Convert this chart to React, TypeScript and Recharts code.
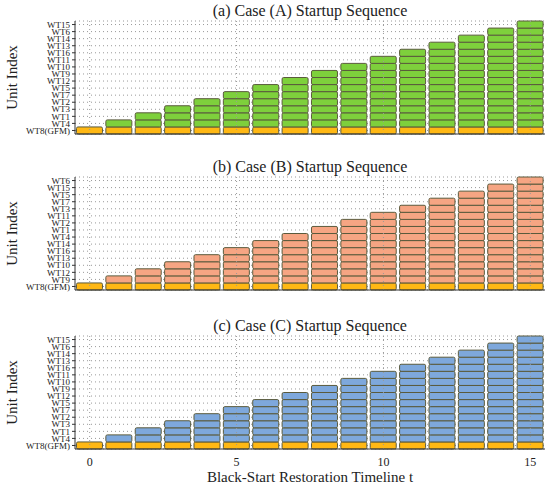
import React from "react"
import {
  BarChart,
  Bar,
  XAxis,
  YAxis,
  CartesianGrid,
  ReferenceLine,
} from "recharts"

// startup order, bottom (first energised) to top
const orderA = ["WT8(GFM)", "WT4", "WT1", "WT3", "WT2", "WT7", "WT5", "WT12", "WT9", "WT10", "WT11", "WT16", "WT13", "WT14", "WT6", "WT15"]
const orderB = ["WT8(GFM)", "WT9", "WT12", "WT10", "WT13", "WT16", "WT14", "WT4", "WT1", "WT2", "WT11", "WT3", "WT7", "WT5", "WT15", "WT6"]
const orderC = ["WT8(GFM)", "WT4", "WT1", "WT3", "WT2", "WT7", "WT5", "WT12", "WT9", "WT10", "WT11", "WT16", "WT13", "WT14", "WT6", "WT15"]

const timeline = [0, 1, 2, 3, 4, 5, 6, 7, 8, 9, 10, 11, 12, 13, 14, 15]
// units online at each step (same for all three cases)
const unitsOnline = [1, 2, 3, 4, 5, 6, 7, 8, 9, 10, 11, 12, 13, 14, 15, 16]
const timeTicks = [0, 5, 10, 15]

const FONT = '"Liberation Serif", "Times New Roman", serif'
const GFM_COLOR = "#ffb814"
const EDGE = "#5a5a3c"

const rows = timeline.map((t, i) => {
  const row: any = { t }
  for (let k = 0; k < 16; k++) row["L" + k] = k < unitsOnline[i] ? 1 : null
  return row
})

interface PanelProps {
  title: string
  order: string[]
  color: string
  top: number
  bottom?: boolean
}

function Panel({ title, order, color, top, bottom }: PanelProps) {
  const axisH = bottom ? 36 : 2
  const h = 5 + 113 + axisH
  const levelTicks = order.map((_, i) => i + 0.5)
  return (
    <div style={{ position: "absolute", left: 0, top, width: 550, height: h }}>
      <div
        style={{
          position: "absolute",
          left: 75,
          width: 470,
          top: -14,
          textAlign: "center",
          fontFamily: FONT,
          fontSize: 16,
          color: "#222",
          lineHeight: "18px",
        }}
      >
        {title}
      </div>
      <BarChart
        width={550}
        height={h}
        data={rows}
        margin={{ top: 5, right: 5, left: 0, bottom: 0 }}
        barCategoryGap="5%"
      >
        <CartesianGrid vertical={false} stroke="#999" strokeDasharray="1 3" />
        {timeTicks.map((t) => (
          <ReferenceLine key={t} x={t} stroke="#999" strokeDasharray="1 3" />
        ))}
        <XAxis
          dataKey="t"
          type="category"
          height={axisH}
          stroke="#333"
          tickLine={false}
          tick={bottom ? { fontFamily: FONT, fontSize: 12, fill: "#222" } : false}
          tickFormatter={(v) => (timeTicks.includes(v) ? String(v) : "")}
          interval={0}
          tickMargin={2}
          label={
            bottom
              ? {
                  value: "Black-Start Restoration Timeline t",
                  position: "insideBottom",
                  offset: 3,
                  style: { fontFamily: FONT, fontSize: 15, fill: "#222" },
                }
              : undefined
          }
        />
        <XAxis xAxisId="top" dataKey="t" orientation="top" height={0} tick={false} tickLine={false} stroke="#333" />
        <YAxis
          type="number"
          domain={[0, 16]}
          ticks={levelTicks}
          interval={0}
          width={75}
          stroke="#333"
          tickSize={3}
          tick={{ fontFamily: FONT, fontSize: 9, fill: "#222" }}
          tickFormatter={(v) => order[Math.floor(v)]}
          label={{
            value: "Unit Index",
            angle: -90,
            position: "insideLeft",
            offset: 12,
            style: { fontFamily: FONT, fontSize: 15, fill: "#222", textAnchor: "middle" },
          }}
        />
        <YAxis yAxisId="right" orientation="right" width={0} domain={[0, 16]} tick={false} tickLine={false} stroke="#333" />
        {order.map((_, k) => (
          <Bar
            key={k}
            dataKey={"L" + k}
            stackId="s"
            fill={k === 0 ? GFM_COLOR : color}
            stroke={EDGE}
            strokeWidth={1}
            radius={1.5}
            isAnimationActive={false}
          />
        ))}
      </BarChart>
    </div>
  )
}

export default function App() {
  return (
    <div style={{ position: "absolute", left: 0, top: 0, width: 550, height: 486, background: "#fff" }}>
      <Panel title="(a) Case (A) Startup Sequence" order={orderA} color="#7ed03c" top={16} />
      <Panel title="(b) Case (B) Startup Sequence" order={orderB} color="#f6a583" top={172} />
      <Panel title="(c) Case (C) Startup Sequence" order={orderC} color="#7ea8dc" top={331} bottom />
    </div>
  )
}
